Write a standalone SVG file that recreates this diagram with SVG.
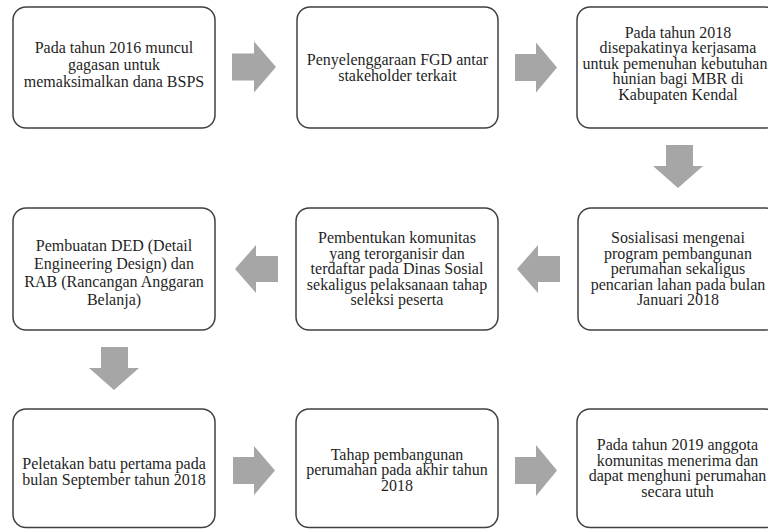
<svg xmlns="http://www.w3.org/2000/svg" width="768" height="529" viewBox="0 0 768 529">
<style>
.box{fill:#fff;stroke:#404040;stroke-width:1.5}
.t{font-family:'Liberation Serif','Times New Roman',serif;font-size:16px;fill:#1f1f1f;text-anchor:middle}
.arr{fill:#a6a6a6}
</style>
<rect width="768" height="529" fill="#fff"/>
<g id="connectors">
<path class="arr" d="M232,53.5 H254 V41.5 L276,67 L254,92.5 V80.5 H232 Z"/>
<path class="arr" d="M515,54 H536 V42.5 L557,67.5 L536,92.5 V81 H515 Z"/>
<path class="arr" d="M666,145 H693 V166 H703 L678,188 L653,166 H666 Z"/>
<path class="arr" d="M560,256 H538 V245 L517,269 L538,293 V282 H560 Z"/>
<path class="arr" d="M278,256 H256 V245 L235,269 L256,293 V282 H278 Z"/>
<path class="arr" d="M101,347 H128 V368 H139 L114,390 L89,368 H101 Z"/>
<path class="arr" d="M233,457 H254 V446 L275,470.5 L254,495 V484 H233 Z"/>
<path class="arr" d="M515,457 H536 V445 L557,470.5 L536,496 V484 H515 Z"/>
</g>
<g id="n1"><rect class="box" x="13" y="7" width="202" height="121" rx="13"/>
<text class="t"><tspan x="114" y="53">Pada tahun 2016 muncul</tspan><tspan x="114" y="70">gagasan untuk</tspan><tspan x="114" y="87">memaksimalkan dana BSPS</tspan></text></g>
<g id="n2"><rect class="box" x="297" y="7" width="201" height="121" rx="13"/>
<text class="t"><tspan x="397.5" y="65">Penyelenggaraan FGD antar</tspan><tspan x="397.5" y="81">stakeholder terkait</tspan></text></g>
<g id="n3"><rect class="box" x="577" y="7" width="201" height="121" rx="13"/>
<text class="t"><tspan x="678" y="37.5">Pada tahun 2018</tspan><tspan x="678" y="53">disepakatinya kerjasama</tspan><tspan x="675" y="68.5">untuk pemenuhan kebutuhan</tspan><tspan x="678" y="84">hunian bagi MBR di</tspan><tspan x="678" y="99.5">Kabupaten Kendal</tspan></text></g>
<g id="n4"><rect class="box" x="13" y="208" width="202" height="122" rx="13"/>
<text class="t"><tspan x="114" y="251">Pembuatan DED (Detail</tspan><tspan x="114" y="269">Engineering Design) dan</tspan><tspan x="114" y="287">RAB (Rancangan Anggaran</tspan><tspan x="114" y="305">Belanja)</tspan></text></g>
<g id="n5"><rect class="box" x="296" y="208" width="202" height="122" rx="13"/>
<text class="t"><tspan x="397" y="243">Pembentukan komunitas</tspan><tspan x="397" y="258.5">yang terorganisir dan</tspan><tspan x="397" y="274">terdaftar pada Dinas Sosial</tspan><tspan x="397" y="289.5">sekaligus pelaksanaan tahap</tspan><tspan x="397" y="305">seleksi peserta</tspan></text></g>
<g id="n6"><rect class="box" x="578" y="208" width="201" height="122" rx="13"/>
<text class="t"><tspan x="678" y="243">Sosialisasi mengenai</tspan><tspan x="678" y="258.5">program pembangunan</tspan><tspan x="678" y="274">perumahan sekaligus</tspan><tspan x="678" y="289.5">pencarian lahan pada bulan</tspan><tspan x="678" y="305">Januari 2018</tspan></text></g>
<g id="n7"><rect class="box" x="13" y="409" width="202" height="118.5" rx="13"/>
<text class="t"><tspan x="114" y="469">Peletakan batu pertama pada</tspan><tspan x="114" y="485">bulan September tahun 2018</tspan></text></g>
<g id="n8"><rect class="box" x="296" y="409" width="202" height="118.5" rx="13"/>
<text class="t"><tspan x="397" y="459.5">Tahap pembangunan</tspan><tspan x="397" y="475">perumahan pada akhir tahun</tspan><tspan x="397" y="490.5">2018</tspan></text></g>
<g id="n9"><rect class="box" x="577" y="409" width="201" height="118.5" rx="13"/>
<text class="t"><tspan x="677.5" y="450">Pada tahun 2019 anggota</tspan><tspan x="677.5" y="465.5">komunitas menerima dan</tspan><tspan x="677.5" y="481">dapat menghuni perumahan</tspan><tspan x="677.5" y="496.5">secara utuh</tspan></text></g>
</svg>
